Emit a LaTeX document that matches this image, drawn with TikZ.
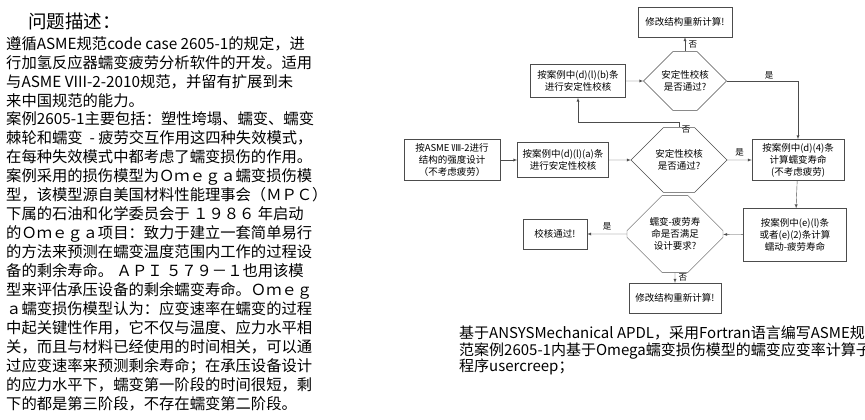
\documentclass[tikz,border=0pt]{standalone}
\usepackage{fontspec}
\setmainfont{Noto Sans CJK SC}
\usetikzlibrary{shapes.misc,arrows}
\tikzset{x=1pt,y=-1pt}
\def\fsz{9.5}
\tikzset{box/.style={draw=black!70, align=center, inner sep=1pt, font=\fontsize{\fsz}{12}\selectfont},
  hexa/.style={draw=black!70, chamfered rectangle, chamfered rectangle xsep=13pt, chamfered rectangle ysep=19pt, align=center, inner sep=0pt, font=\fontsize{\fsz}{12}\selectfont},
  flow/.style={draw=black!70, -latex},
  lbl/.style={font=\fontsize{8.5}{9}\selectfont}}

\begin{document}
\begin{tikzpicture}
\useasboundingbox (0,0) rectangle (865,420);

%% left column of text
\node[anchor=west, inner sep=0pt] (title) at (28,21) {\fontsize{18.5}{20}\selectfont 问题描述：};
\node[anchor=north west, align=left, inner sep=0pt, font=\fontsize{15.3}{18.95}\selectfont] (desc) at (6,36) {%
遵循ASME规范code case 2605-1的规定，进\\
行加氢反应器蠕变疲劳分析软件的开发。适用\\
与ASME VIII-2-2010规范，并留有扩展到未\\
来中国规范的能力。\\
案例2605-1主要包括：塑性垮塌、蠕变、蠕变\\
棘轮和蠕变 \ - 疲劳交互作用这四种失效模式，\\
在每种失效模式中都考虑了蠕变损伤的作用。\\
案例采用的损伤模型为Ｏｍｅｇａ蠕变损伤模\\
型，该模型源自美国材料性能理事会（ＭＰＣ）\\
下属的石油和化学委员会于 １９８６ 年启动\\
的Ｏｍｅｇａ项目：致力于建立一套简单易行\\
的方法来预测在蠕变温度范围内工作的过程设\\
备的剩余寿命。 ＡＰＩ ５７９－１也用该模\\
型来评估承压设备的剩余蠕变寿命。Ｏｍｅｇ\\
ａ蠕变损伤模型认为：应变速率在蠕变的过程\\
中起关键性作用，它不仅与温度、应力水平相\\
关，而且与材料已经使用的时间相关，可以通\\
过应变速率来预测剩余寿命；在承压设备设计\\
的应力水平下，蠕变第一阶段的时间很短，剩\\
下的都是第三阶段，不存在蠕变第二阶段。};

%% flowchart
\node[box, minimum width=94, minimum height=30] (fixtop) at (685,22) {修改结构重新计算!};
\node[box, minimum width=95, minimum height=33] (chkb) at (578,81) {按案例中(d)(l)(b)条\\进行安定性校核};
\node[hexa, minimum width=83, minimum height=38] (dec1) at (685,81) {安定性校核\\是否通过?};
\node[box, minimum width=96, minimum height=41] (asme) at (452,160) {按ASME Ⅷ-2进行\\结构的强度设计\\（不考虑疲劳）};
\node[box, minimum width=91, minimum height=35] (chka) at (563,160) {按案例中(d)(l)(a)条\\进行安定性校核};
\node[hexa, chamfered rectangle ysep=22pt, minimum width=96, minimum height=45] (dec2) at (679,160) {安定性校核\\是否通过?};
\node[box, minimum width=92, minimum height=41] (life) at (798,160) {按案例中(d)(4)条\\计算蠕变寿命\\(不考虑疲劳)};
\node[box, minimum width=103, minimum height=53] (fat) at (795,235) {按案例中(e)(l)条\\或者(e)(2)条计算\\蠕动-疲劳寿命};
\node[hexa, chamfered rectangle ysep=22pt, minimum width=96, minimum height=44] (dec3) at (675,234) {蠕变-疲劳寿\\命是否满足\\设计要求?};
\node[box, minimum width=64, minimum height=30] (pass) at (555,234) {校核通过!};
\node[box, minimum width=92, minimum height=30] (fixbot) at (675,298) {修改结构重新计算!};

\coordinate (c1) at (dec2.north |- 0,122);
\coordinate (c2) at (chkb.south |- c1);
\coordinate (c3) at (life.north |- dec1.east);

\draw[flow] (asme) -- (chka);
\draw[flow] (chka) -- (dec2);
\draw[flow] (dec2) -- node[lbl, above] {是} (life);
\draw[flow] (dec2.north) -- (c1) -- (c2) -- (chkb.south);
\node[lbl] (no2) at (686,130) {否};
\draw[flow] (chkb) -- (dec1);
\draw[flow] (dec1.north) -- node[lbl, right] {否} (fixtop);
\draw[flow] (dec1.east) -- (c3) -- (life.north);
\node[lbl] (yes1) at (769,75) {是};
\draw[flow] (life) -- (fat);
\draw[flow] (fat) -- (dec3);
\draw[flow] (dec3) -- node[lbl, above] {是} (pass);
\draw[flow] (dec3) -- node[lbl, right] {否} (fixbot);

%% caption
\node[anchor=north west, align=left, inner sep=0pt, font=\fontsize{15}{16.5}\selectfont] (cap) at (459,326) {%
基于ANSYSMechanical APDL，采用Fortran语言编写ASME规\\
范案例2605-1内基于Omega蠕变损伤模型的蠕变应变率计算子\\
程序usercreep；};
\end{tikzpicture}
\end{document}
